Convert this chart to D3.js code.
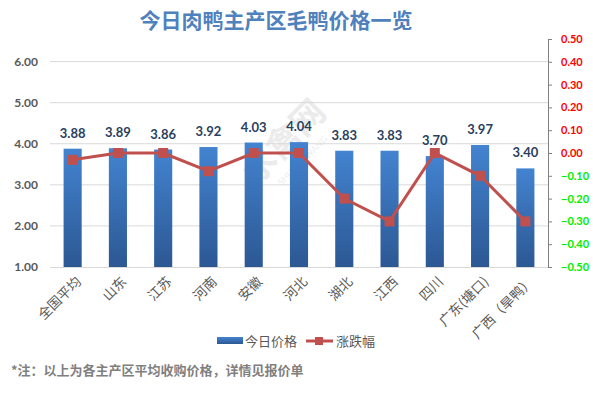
<!DOCTYPE html>
<html>
<head>
<meta charset="utf-8">
<script src="https://cdn.jsdelivr.net/npm/d3@7/dist/d3.min.js"></script>
<style>
    body { margin: 0; background: #fff; }
    svg { display: block; }
</style>
</head>
<body>
<svg id="chart"></svg>
<script>
// chart data
let regions = ['全国平均', '山东', '江苏', '河南', '安徽', '河北', '湖北', '江西', '四川', '广东(塘口)', '广西（旱鸭）'];
let prices = [3.88, 3.89, 3.86, 3.92, 4.03, 4.04, 3.83, 3.83, 3.70, 3.97, 3.40];
let changes = [-0.03, 0.00, 0.00, -0.08, 0.00, 0.00, -0.20, -0.30, 0.00, -0.10, -0.30];
let leftTicks = [1, 2, 3, 4, 5, 6];
let rightTicks = [0.5, 0.4, 0.3, 0.2, 0.1, 0, -0.1, -0.2, -0.3, -0.4, -0.5];
let legendNames = ['今日价格', '涨跌幅'];

let width = 593,
    height = 393;

let margin = {
    left: 50,
    right: 45,
    top: 39,
    bottom: 126
};

let numFont = 'Lato, "Liberation Sans", sans-serif';
let cjkFont = '"Noto Sans CJK SC", sans-serif';

let svg = d3.select('#chart')
    .attr('width', width)
    .attr('height', height);

let defs = svg.append('defs');
let grad = defs.append('linearGradient')
    .attr('id', 'barGrad')
    .attr('x1', 0).attr('y1', 0)
    .attr('x2', 0).attr('y2', 1);
grad.append('stop').attr('offset', '0%').attr('stop-color', '#4383d0');
grad.append('stop').attr('offset', '100%').attr('stop-color', '#2c5893');

// title
svg.append('text')
    .attr('x', 276)
    .attr('y', 28)
    .attr('text-anchor', 'middle')
    .style('font-family', cjkFont)
    .style('font-size', '21px')
    .style('font-weight', 'bold')
    .style('fill', '#4f81bd')
    .text('今日肉鸭主产区毛鸭价格一览');

// scales
let scaleX = d3.scaleBand()
    .domain(regions)
    .range([margin.left, width - margin.right])
    .paddingInner(0.6)
    .paddingOuter(0.3);

let scaleY = d3.scaleLinear()
    .domain([1, 6.55])
    .range([height - margin.bottom, margin.top]);

let scaleY2 = d3.scaleLinear()
    .domain([-0.5, 0.5])
    .range([height - margin.bottom, margin.top]);

// watermark
let wm = svg.append('g')
    .attr('transform', 'translate(292,150) rotate(-45)')
    .style('opacity', 0.12);
wm.append('text')
    .attr('text-anchor', 'middle')
    .style('font-family', cjkFont)
    .style('font-size', '34px')
    .style('font-weight', 'bold')
    .style('fill', '#666')
    .text('水禽网');
wm.append('text')
    .attr('y', 18)
    .attr('text-anchor', 'middle')
    .style('font-family', numFont)
    .style('font-size', '9px')
    .style('fill', '#666')
    .text('SHUIQINWANG');

// gridlines
svg.append('g')
    .selectAll('line')
    .data(leftTicks.filter(d => d > 1))
    .enter()
    .append('line')
    .attr('x1', margin.left)
    .attr('x2', width - margin.right)
    .attr('y1', d => scaleY(d))
    .attr('y2', d => scaleY(d))
    .style('stroke', '#d9d9d9')
    .style('stroke-width', 1);

// left axis
let yAxis = d3.axisLeft(scaleY)
    .tickValues(leftTicks)
    .tickFormat(d3.format('.2f'))
    .tickSize(0)
    .tickPadding(12);

let yAxisG = svg.append('g')
    .attr('transform', `translate(${margin.left}, 0)`)
    .call(yAxis);
yAxisG.select('.domain').remove();
yAxisG.selectAll('text')
    .style('font-family', numFont)
    .style('font-size', '12px')
    .style('font-weight', 'bold')
    .style('fill', '#595959');

// bars
svg.append('g')
    .selectAll('rect')
    .data(prices)
    .enter()
    .append('rect')
    .attr('x', (d, i) => scaleX(regions[i]))
    .attr('y', d => scaleY(d))
    .attr('width', scaleX.bandwidth())
    .attr('height', d => scaleY(1) - scaleY(d))
    .style('fill', 'url(#barGrad)');

// bar labels
svg.append('g')
    .selectAll('text')
    .data(prices)
    .enter()
    .append('text')
    .attr('x', (d, i) => scaleX(regions[i]) + scaleX.bandwidth() / 2)
    .attr('y', d => scaleY(d) - 11)
    .attr('text-anchor', 'middle')
    .style('font-family', numFont)
    .style('font-size', '13px')
    .style('font-weight', 'bold')
    .style('fill', '#2a3f5f')
    .text(d => d3.format('.2f')(d));

// x axis
let xAxis = d3.axisBottom(scaleX).tickSize(0).tickPadding(0);
let xAxisG = svg.append('g')
    .attr('transform', `translate(0, ${scaleY(1)})`)
    .call(xAxis);
xAxisG.select('.domain')
    .attr('d', `M${margin.left},0.5H${width - margin.right}`)
    .style('stroke', '#d9d9d9');
xAxisG.selectAll('text')
    .attr('transform', 'translate(6,12) rotate(-45)')
    .attr('dy', '0.35em')
    .style('text-anchor', 'end')
    .style('font-family', cjkFont)
    .style('font-size', '13.5px')
    .style('fill', '#595959');

// right axis
let yAxis2 = d3.axisRight(scaleY2)
    .tickValues(rightTicks)
    .tickFormat(d3.format('.2f'))
    .tickSize(4)
    .tickPadding(9);

let yAxis2G = svg.append('g')
    .attr('transform', `translate(${width - margin.right}, 0)`)
    .call(yAxis2);
yAxis2G.select('.domain').style('stroke', '#808080');
yAxis2G.selectAll('.tick line').style('stroke', '#808080');
yAxis2G.selectAll('text')
    .style('font-family', numFont)
    .style('font-size', '11px')
    .style('font-weight', 'bold')
    .style('fill', d => d >= 0 ? '#ff0000' : '#00ee00');

// change line
let line = d3.line()
    .x((d, i) => scaleX(regions[i]) + scaleX.bandwidth() / 2)
    .y(d => scaleY2(d));

svg.append('path')
    .datum(changes)
    .attr('d', line)
    .style('fill', 'none')
    .style('stroke', '#c0504d')
    .style('stroke-width', 3);

svg.append('g')
    .selectAll('rect')
    .data(changes)
    .enter()
    .append('rect')
    .attr('x', (d, i) => scaleX(regions[i]) + scaleX.bandwidth() / 2 - 5)
    .attr('y', d => scaleY2(d) - 5)
    .attr('width', 10)
    .attr('height', 10)
    .style('fill', '#c0504d');

// legend
let legend = svg.append('g').attr('transform', 'translate(217, 341)');
legend.append('rect')
    .attr('x', 0).attr('y', -4)
    .attr('width', 26).attr('height', 7)
    .style('fill', 'url(#barGrad)');
legend.append('text')
    .attr('x', 28).attr('y', 0)
    .attr('dy', '0.35em')
    .style('font-family', cjkFont)
    .style('font-size', '13px')
    .style('fill', '#595959')
    .text(legendNames[0]);
legend.append('line')
    .attr('x1', 89).attr('x2', 116)
    .attr('y1', 0).attr('y2', 0)
    .style('stroke', '#c0504d')
    .style('stroke-width', 3);
legend.append('rect')
    .attr('x', 98).attr('y', -4)
    .attr('width', 8).attr('height', 8)
    .style('fill', '#c0504d');
legend.append('text')
    .attr('x', 119).attr('y', 0)
    .attr('dy', '0.35em')
    .style('font-family', cjkFont)
    .style('font-size', '13px')
    .style('fill', '#595959')
    .text(legendNames[1]);

// footnote
svg.append('text')
    .attr('x', 11)
    .attr('y', 375)
    .style('font-family', cjkFont)
    .style('font-size', '13px')
    .style('font-weight', 'bold')
    .style('fill', '#7f7f7f')
    .text('*注：以上为各主产区平均收购价格，详情见报价单');
</script>
</body>
</html>
